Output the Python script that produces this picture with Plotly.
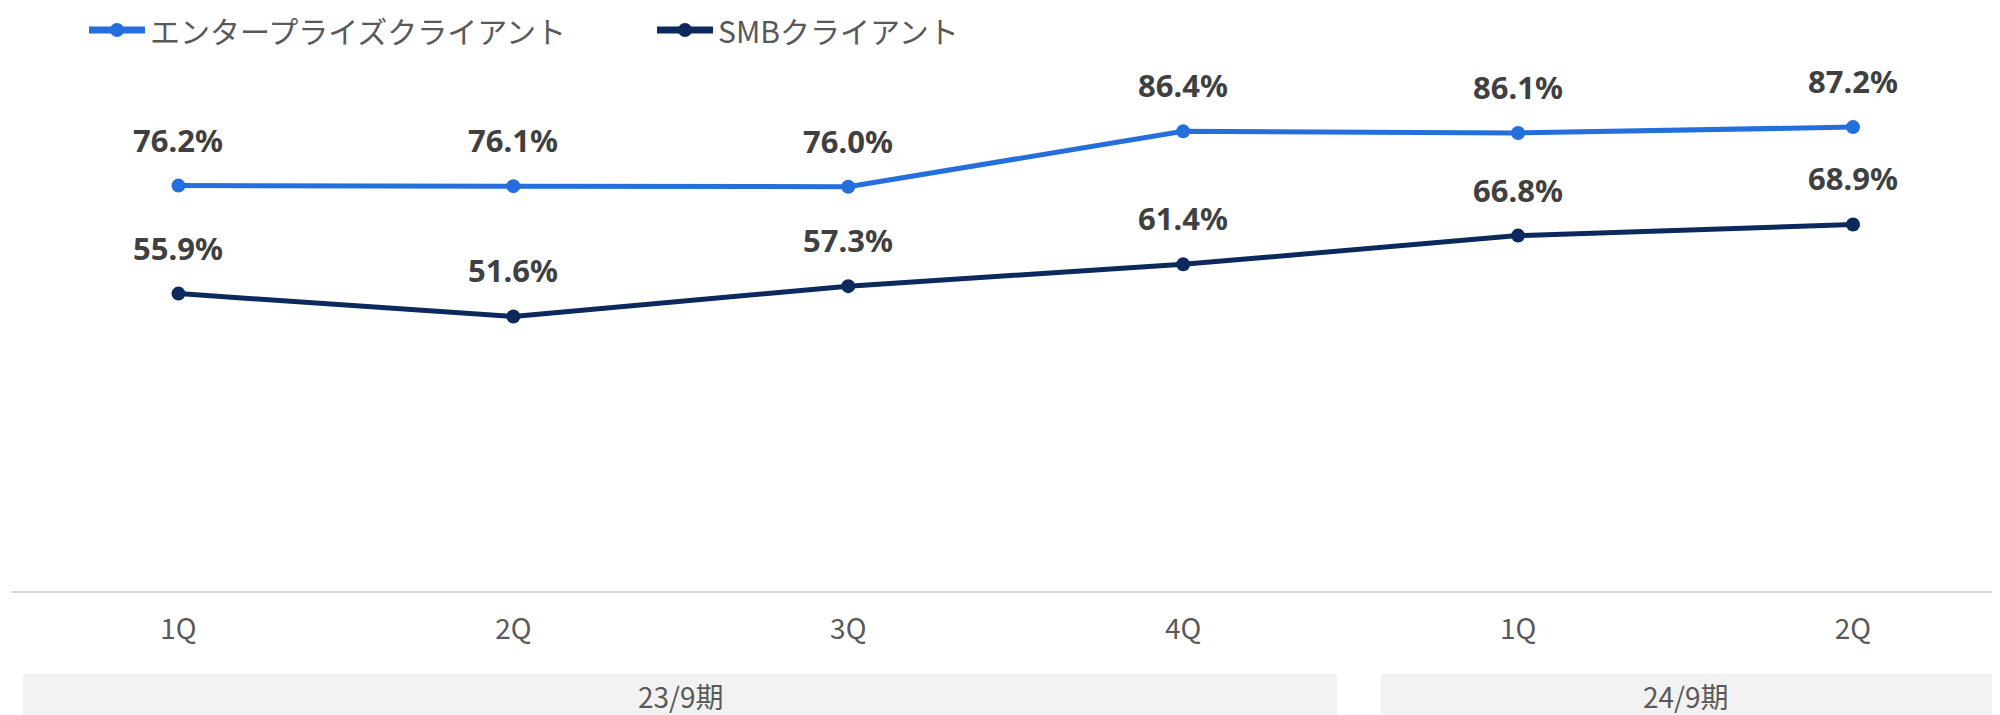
import plotly.graph_objects as go

# data
quarters = ["1Q", "2Q", "3Q", "4Q", "1Q", "2Q"]
periods = ["23/9期", "24/9期"]
period_spans = [(0, 3), (4, 5)]
series_names = ["エンタープライズクライアント", "SMBクライアント"]
enterprise = [76.2, 76.1, 76.0, 86.4, 86.1, 87.2]
smb = [55.9, 51.6, 57.3, 61.4, 66.8, 68.9]

x_pos = list(range(len(quarters)))
x_range = [-0.5, 5.439]

ENT_COLOR = "#246fdc"
SMB_COLOR = "#0b295c"
TEXT_GRAY = "#595959"
LABEL_COLOR = "#404040"
JP_FONT = "Noto Sans CJK JP"

# page body has an 8px margin inside the 2000x715 window
W, H = 1992, 707
M_L, M_T, M_B = 3, 51, 124
PLOT_W, PLOT_H = W - M_L, H - M_T - M_B


def to_paper(x):
    return (x - x_range[0]) / (x_range[1] - x_range[0])


def px_x(px):
    return (px - M_L) / PLOT_W


def px_y(py):
    return (H - M_B - py) / PLOT_H


fig = go.Figure()
colors = [ENT_COLOR, SMB_COLOR]
for name, values, color in zip(series_names, (enterprise, smb), colors):
    fig.add_trace(go.Scatter(x=x_pos, y=values, name=name,
                             mode="lines+markers",
                             line=dict(color=color, width=5),
                             marker=dict(color=color, size=14)))

# data labels above points
for series in (enterprise, smb):
    for x, v in zip(x_pos, series):
        fig.add_annotation(x=x, y=v, xref="x", yref="y",
                           text=f"{v:.1f}%", showarrow=False, yshift=46,
                           font=dict(family="Noto Sans", size=31,
                                     color=LABEL_COLOR, weight="bold"))

# legend drawn by hand (long line symbol like the original)
legend_y = px_y(22)
for name, color, x0 in zip(series_names, colors, (81, 649)):
    fig.add_shape(type="line", xref="paper", yref="paper",
                  x0=px_x(x0), x1=px_x(x0 + 56), y0=legend_y, y1=legend_y,
                  line=dict(color=color, width=7))
    fig.add_shape(type="circle", xref="paper", yref="paper",
                  x0=px_x(x0 + 21), x1=px_x(x0 + 35),
                  y0=px_y(15), y1=px_y(29),
                  fillcolor=color, line=dict(width=0))
    fig.add_annotation(x=px_x(x0 + 59), y=legend_y, xref="paper", yref="paper",
                       text=name, showarrow=False, xanchor="left", yanchor="middle",
                       font=dict(family=JP_FONT, size=30, color=TEXT_GRAY))

# period group boxes + labels
box_edges = [(-0.465, 3.46), (3.59, 5.46)]
for label, (a, b), (x0, x1) in zip(periods, period_spans, box_edges):
    fig.add_shape(type="rect", xref="paper", yref="paper",
                  x0=to_paper(x0), x1=to_paper(x1), y0=-0.156, y1=-0.24,
                  fillcolor="#f2f2f2", line=dict(width=0), layer="below")
    fig.add_annotation(x=(a + b) / 2, y=-0.197, xref="x", yref="paper",
                       text=label, showarrow=False, yanchor="middle",
                       font=dict(family=JP_FONT, size=28, color=TEXT_GRAY))

fig.update_layout(width=W, height=H,
                  margin=dict(l=M_L, r=0, t=M_T, b=M_B),
                  plot_bgcolor="white", paper_bgcolor="white",
                  xaxis=dict(range=x_range, tickvals=x_pos, ticktext=quarters,
                             showgrid=False, zeroline=False, showline=True,
                             linecolor="#d9d9d9", linewidth=2, ticks="",
                             ticklabelstandoff=12,
                             tickfont=dict(family=JP_FONT, size=28, color=TEXT_GRAY)),
                  yaxis=dict(range=[0, 100], visible=False),
                  showlegend=False)

fig.write_html("out.html")
